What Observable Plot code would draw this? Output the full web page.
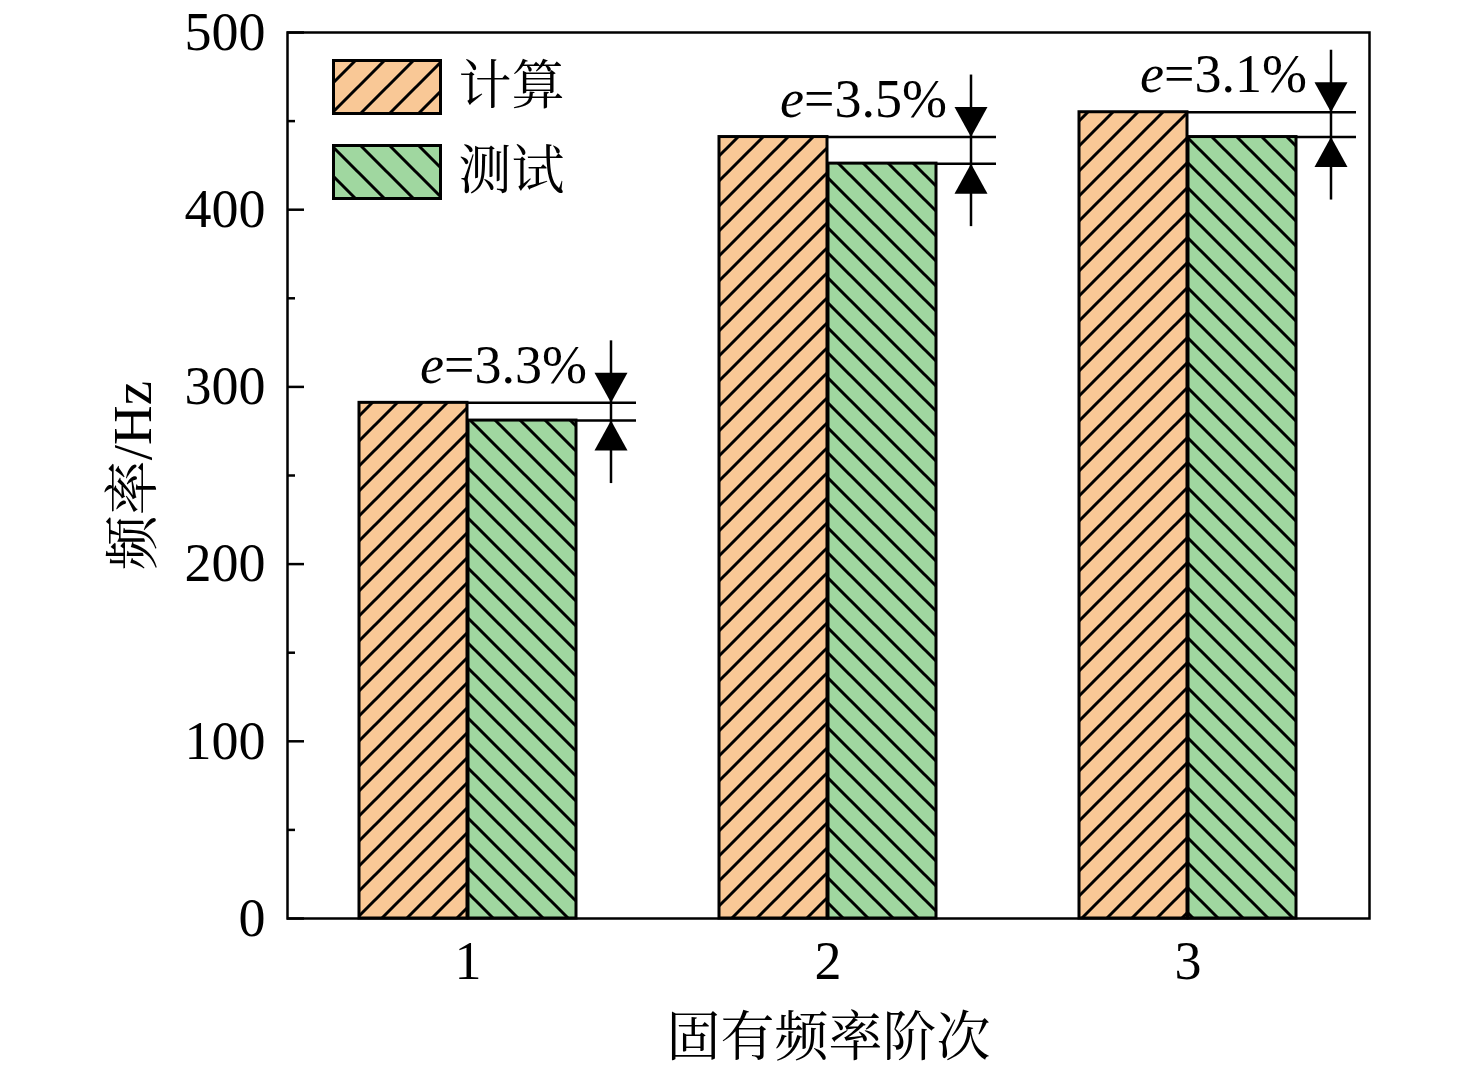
<!DOCTYPE html>
<html>
<head>
<meta charset="utf-8">
<script src="https://cdn.jsdelivr.net/npm/d3@7"></script>
<script src="https://cdn.jsdelivr.net/npm/@observablehq/plot@0.6"></script>
<style>
  html, body { margin: 0; padding: 0; background: #fff; }
</style>
</head>
<body>
<div id="chart"></div>
<script>
const categories = ["1", "2", "3"];
const calcValues = [291, 441, 455];
const testValues = [281, 426, 441];
const errorLabels = ["3.3%", "3.5%", "3.1%"];
const seriesNames = ["计算", "测试"];
const yTicks = [0, 100, 200, 300, 400, 500];
const yMinorTicks = [50, 150, 250, 350, 450];
const xLabel = "固有频率阶次";
const yLabel = "频率/Hz";

const data = categories.map((c, i) => ({
  group: c, calc: calcValues[i], test: testValues[i], err: "e=" + errorLabels[i]
}));

const ORANGE = "#F9C896";
const GREEN = "#A0D7A0";
const FONT = "'Liberation Serif', 'Noto Serif CJK SC', 'Noto Sans CJK SC', serif";

function defsMark() {
  const defs = d3.create("svg:defs");
  function hatch(id, color, s, dir) {
    const p = defs.append("pattern").attr("id", id)
      .attr("patternUnits", "userSpaceOnUse").attr("width", s).attr("height", s);
    p.append("rect").attr("width", s).attr("height", s).attr("fill", color);
    const d = dir > 0
      ? `M${-s/2},${s/2} L${s/2},${-s/2} M0,${s} L${s},0 M${s/2},${1.5*s} L${1.5*s},${s/2}`
      : `M${-s/2},${s/2} L${s/2},${1.5*s} M0,0 L${s},${s} M${s/2},${-s/2} L${1.5*s},${s/2}`;
    p.append("path").attr("d", d).attr("stroke", "black").attr("stroke-width", 3).attr("fill", "none");
  }
  hatch("hatchCalc", ORANGE, 25, 1);
  hatch("hatchTest", GREEN, 25, -1);
  hatch("legendCalc", ORANGE, 29, 1);
  hatch("legendTest", GREEN, 29, -1);
  return defs.node();
}

const triDown = { draw(ctx) { ctx.moveTo(0, 0); ctx.lineTo(-16.5, -30); ctx.lineTo(16.5, -30); ctx.closePath(); } };
const triUp = { draw(ctx) { ctx.moveTo(0, 0); ctx.lineTo(-16.5, 30); ctx.lineTo(16.5, 30); ctx.closePath(); } };
const legendRect = { draw(ctx) { ctx.rect(-53.5, -26.5, 107, 53); } };

const half = 109;

const chart = Plot.plot({
  width: 1476,
  height: 1083,
  marginLeft: 287,
  marginRight: 107,
  marginTop: 32,
  marginBottom: 165,
  style: { fontFamily: FONT, fontSize: "53px", background: "#fff", color: "black" },
  x: { domain: categories, type: "band", paddingInner: 0.396, paddingOuter: 0.198 },
  y: { domain: [0, 500] },
  marks: [
    defsMark,
    Plot.barY(data, { x: "group", y: "calc", fill: "url(#hatchCalc)", stroke: "black", strokeWidth: 3, insetRight: half }),
    Plot.barY(data, { x: "group", y: "test", fill: "url(#hatchTest)", stroke: "black", strokeWidth: 3, insetLeft: half }),
    Plot.tickY(data, { x: "group", y: "calc", insetLeft: half, insetRight: -60, stroke: "black", strokeWidth: 2.5 }),
    Plot.tickY(data, { x: "group", y: "test", insetLeft: 2 * half, insetRight: -60, stroke: "black", strokeWidth: 2.5 }),
    Plot.ruleX(data, { x: "group", y1: "calc", y2: "test", dx: 143, insetTop: -62, insetBottom: -63, stroke: "black", strokeWidth: 2.5 }),
    Plot.dot(data, { x: "group", y: "calc", dx: 143, symbol: triDown, fill: "black", stroke: "none" }),
    Plot.dot(data, { x: "group", y: "test", dx: 143, symbol: triUp, fill: "black", stroke: "none" }),
    Plot.text(data, { x: "group", y: "calc", text: "err", dx: 119, dy: -20, textAnchor: "end", lineAnchor: "bottom", fontSize: 54, fill: "black" }),
    Plot.tickY(yTicks, { y: d => d, insetRight: 1082 - 17, stroke: "black", strokeWidth: 2.5 }),
    Plot.tickY(yMinorTicks, { y: d => d, insetRight: 1082 - 8, stroke: "black", strokeWidth: 2.5 }),
    Plot.frame({ stroke: "black", strokeWidth: 2.5 }),
    Plot.axisY({ ticks: yTicks, tickSize: 0, tickPadding: 22, fontSize: 54, label: null }),
    Plot.axisX({ tickSize: 0, tickPadding: 22, fontSize: 54, label: null }),
    // legend
    Plot.dot([seriesNames[0]], { frameAnchor: "top-left", dx: 99.5, dy: 54.5, symbol: legendRect, fill: "url(#legendCalc)", stroke: "black", strokeWidth: 3 }),
    Plot.dot([seriesNames[1]], { frameAnchor: "top-left", dx: 99.5, dy: 139.5, symbol: legendRect, fill: "url(#legendTest)", stroke: "black", strokeWidth: 3 }),
    Plot.text([seriesNames[0]], { text: d => d, frameAnchor: "top-left", dx: 171, dy: 55, textAnchor: "start", lineAnchor: "middle", fontSize: 53, fill: "black" }),
    Plot.text([seriesNames[1]], { text: d => d, frameAnchor: "top-left", dx: 171, dy: 140, textAnchor: "start", lineAnchor: "middle", fontSize: 53, fill: "black" }),
    // axis titles
    Plot.text([xLabel], { text: d => d, frameAnchor: "bottom", dy: 120, textAnchor: "middle", lineAnchor: "middle", fontSize: 54, fill: "black" }),
    Plot.text([yLabel], { text: d => d, frameAnchor: "left", dx: -154, rotate: -90, textAnchor: "middle", lineAnchor: "middle", fontSize: 55, fill: "black" })
  ]
});

d3.select(chart).selectAll("text").filter(function () { return this.textContent.startsWith("e="); })
  .each(function () {
    const rest = this.textContent.slice(1);
    const t = d3.select(this);
    t.text("");
    t.append("tspan").attr("font-style", "italic").text("e");
    t.append("tspan").text(rest);
  });

document.getElementById("chart").appendChild(chart);
</script>
</body>
</html>
